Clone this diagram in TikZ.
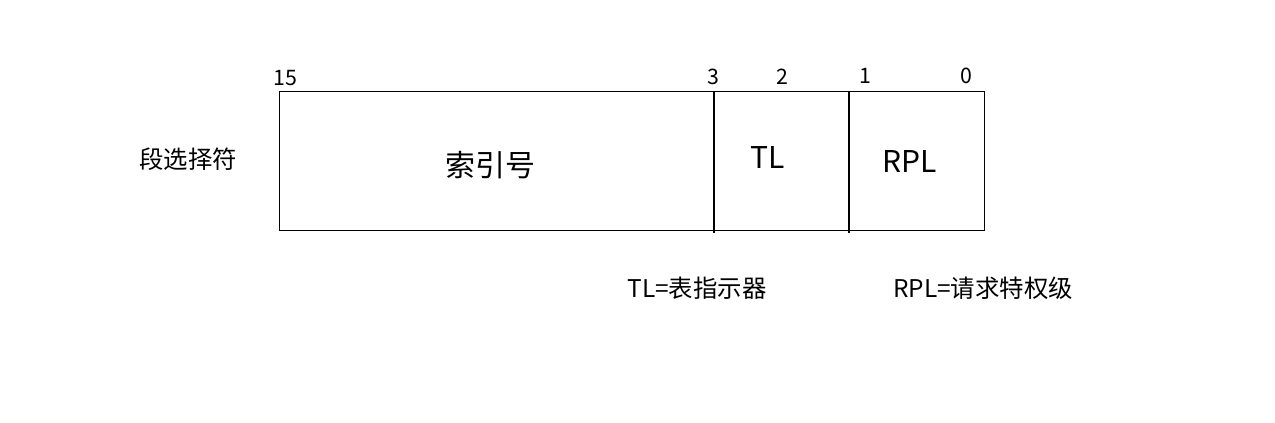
\documentclass[tikz,border=0pt]{standalone}
\usepackage{fontspec}
\setmainfont{Noto Sans CJK SC}
\begin{document}
\begin{tikzpicture}[x=0.75pt,y=-0.75pt]
\tikzstyle{every node}+=[inner sep=0pt]
\tikzstyle{bitno}=[font=\fontsize{16}{16}\selectfont]
\tikzstyle{field}=[font=\fontsize{22.5}{22.5}\selectfont]
\tikzstyle{note}=[font=\fontsize{18.3}{18.3}\selectfont]
\useasboundingbox (0,0) rectangle (1275,422);
\draw [black] (279,91) rectangle (984,230);
\coordinate (d1t) at (714,91);
\coordinate (d1b) at (714,233);
\coordinate (d2t) at (849,91);
\coordinate (d2b) at (849,233);
\draw [black, line width=1.2pt] (d1t) -- (d1b);
\draw [black, line width=1.2pt] (d2t) -- (d2b);
\node [bitno] (b15) at (285,78) {15};
\node [bitno] (b3) at (713,77) {3};
\node [bitno] (b2) at (782,77) {2};
\node [bitno] (b1) at (865,76) {1};
\node [bitno] (b0) at (966,76) {0};
\node [field] (idx) at (490,165) {索引号};
\node [field] (tl) at (768,158) {TL};
\node [field] (rpl) at (910,162) {RPL};
\node [note] (sel) at (188,159) {段选择符};
\node [note] (tlnote) at (697,288) {TL=表指示器};
\node [note] (rplnote) at (983,288) {RPL=请求特权级};
\end{tikzpicture}
\end{document}
